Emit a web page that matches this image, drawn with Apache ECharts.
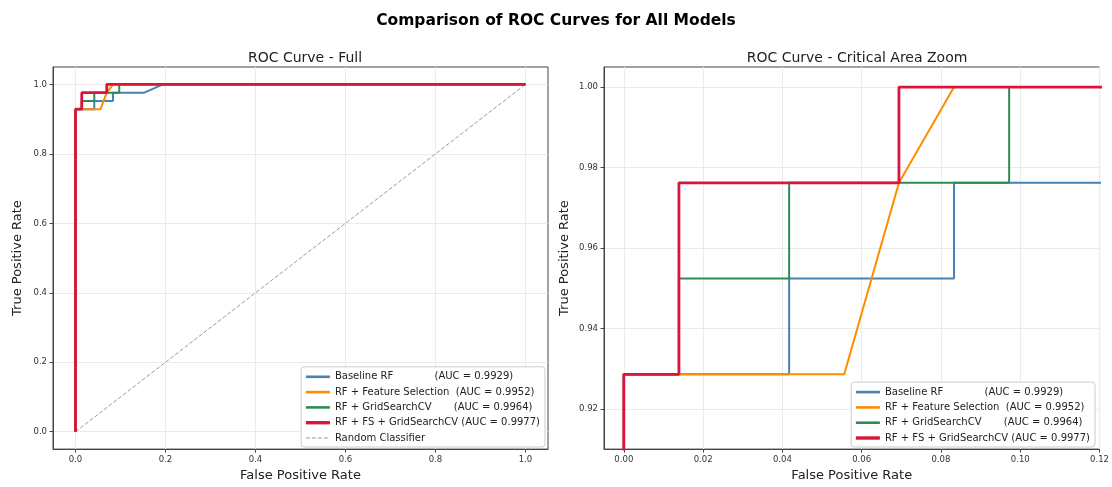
<!DOCTYPE html>
<html>
<head>
<meta charset="utf-8">
<script src="https://cdn.jsdelivr.net/npm/echarts@6/dist/echarts.min.js"></script>
<style>
  html, body { margin: 0; padding: 0; background: #fff; }
  #chart { width: 1112px; height: 487px; }
</style>
</head>
<body>
<div id="chart"></div>
<script>
// ROC points: [fpr, tpr]
const baselineRF = [[0, 0], [0, 0.9286], [0.0417, 0.9286], [0.0417, 0.9524], [0.0833, 0.9524],
  [0.0833, 0.9762], [0.1528, 0.9762], [0.1944, 1], [1, 1]];
const rfFeatureSel = [[0, 0], [0, 0.9286], [0.0556, 0.9286], [0.0694, 0.9762], [0.0833, 1], [1, 1]];
const rfGridSearch = [[0, 0], [0, 0.9286], [0.0139, 0.9286], [0.0139, 0.9524], [0.0417, 0.9524],
  [0.0417, 0.9762], [0.0972, 0.9762], [0.0972, 1], [1, 1]];
const rfFsGridSearch = [[0, 0], [0, 0.9286], [0.0139, 0.9286], [0.0139, 0.9762], [0.0694, 0.9762],
  [0.0694, 1], [1, 1]];
const randomLine = [[0, 0], [1, 1]];

const modelNames = [
  'Baseline RF             (AUC = 0.9929)',
  'RF + Feature Selection  (AUC = 0.9952)',
  'RF + GridSearchCV       (AUC = 0.9964)',
  'RF + FS + GridSearchCV (AUC = 0.9977)',
];
const randomName = 'Random Classifier';
const modelData = [baselineRF, rfFeatureSel, rfGridSearch, rfFsGridSearch];
const modelColors = ['#4682B4', '#FF8C00', '#2E8B57', '#DC143C'];
const modelWidths = [2, 2, 2, 2.8];

const fullTicks = [0, 0.2, 0.4, 0.6, 0.8, 1.0];
const zoomXTicks = [0, 0.02, 0.04, 0.06, 0.08, 0.10, 0.12];
const zoomYTicks = [0.92, 0.94, 0.96, 0.98, 1.00];

const FONT = 'DejaVu Sans';
const spine = '#444';

const axisBase = (ticks, digits) => ({
  type: 'value',
  axisLine: { show: true, onZero: false, lineStyle: { color: spine, width: 1 } },
  axisTick: { show: true, length: 3.5, lineStyle: { color: spine }, customValues: ticks },
  axisLabel: {
    customValues: ticks,
    color: '#333',
    fontSize: 8.5,
    fontFamily: FONT,
    margin: 6,
    formatter: (v) => v.toFixed(digits),
  },
  splitLine: { show: true, lineStyle: { color: '#ebebeb', width: 1 } },
  nameLocation: 'middle',
  nameTextStyle: { fontSize: 13, fontFamily: FONT, color: '#222' },
});

const series = [];
[0, 1].forEach((g) => {
  modelData.forEach((d, i) => {
    series.push({
      name: modelNames[i],
      type: 'line',
      xAxisIndex: g,
      yAxisIndex: g,
      data: d,
      symbol: 'none',
      clip: true,
      lineStyle: { color: modelColors[i], width: modelWidths[i] },
      itemStyle: { color: modelColors[i] },
      animation: false,
    });
  });
});
series.push({
  name: randomName,
  type: 'line',
  xAxisIndex: 0,
  yAxisIndex: 0,
  data: randomLine,
  symbol: 'none',
  z: 1,
  lineStyle: { color: '#999', width: 1, type: [4, 2] },
  itemStyle: { color: '#999' },
  animation: false,
});

const legendItems = modelNames.map((name, i) => ({
  name,
  lineStyle: { width: modelWidths[i] + 0.6 },
}));

const legendBase = {
  orient: 'vertical',
  bottom: 40,
  itemWidth: 24,
  itemHeight: 10,
  itemGap: 5.3,
  padding: [5, 5, 4, 3],
  backgroundColor: '#fff',
  borderColor: '#ccc',
  borderWidth: 1,
  borderRadius: 3,
  selectedMode: false,
  itemStyle: { opacity: 0 },
  textStyle: { fontSize: 10, fontFamily: FONT, color: '#222' },
};

const chart = echarts.init(document.getElementById('chart'));
chart.setOption({
  animation: false,
  title: [
    { text: 'Comparison of ROC Curves for All Models', left: 'center', top: 8,
      textStyle: { fontSize: 15.5, fontWeight: 'bold', fontFamily: FONT, color: '#000' } },
    { text: 'ROC Curve - Full', left: 300, top: 46, textAlign: 'center',
      textStyle: { fontSize: 14, fontWeight: 'normal', fontFamily: FONT, color: '#222' } },
    { text: 'ROC Curve - Critical Area Zoom', left: 852, top: 46, textAlign: 'center',
      textStyle: { fontSize: 14, fontWeight: 'normal', fontFamily: FONT, color: '#222' } },
  ],
  grid: [
    { left: 53, top: 67, width: 495, height: 384, show: true, borderColor: spine, borderWidth: 1 },
    { left: 604, top: 67, width: 497, height: 384, show: true, borderColor: spine, borderWidth: 1 },
  ],
  xAxis: [
    { ...axisBase(fullTicks, 1), gridIndex: 0, min: -0.05, max: 1.05, name: 'False Positive Rate', nameGap: 19 },
    { ...axisBase(zoomXTicks, 2), gridIndex: 1, min: -0.005, max: 0.12, name: 'False Positive Rate', nameGap: 19 },
  ],
  yAxis: [
    { ...axisBase(fullTicks, 1), gridIndex: 0, min: -0.05, max: 1.05, name: 'True Positive Rate', nameGap: 29 },
    { ...axisBase(zoomYTicks, 2), gridIndex: 1, min: 0.91, max: 1.005, name: 'True Positive Rate', nameGap: 33 },
  ],
  legend: [
    { ...legendBase, right: 567, data: legendItems.concat([{ name: randomName, lineStyle: { width: 1.2 } }]) },
    { ...legendBase, right: 17, data: legendItems },
  ],
  series,
});
</script>
</body>
</html>
